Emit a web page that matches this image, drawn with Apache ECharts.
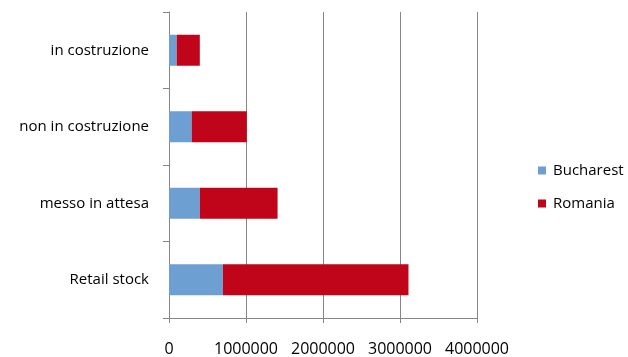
<!DOCTYPE html>
<html><head><meta charset="utf-8">
<script src="https://cdn.jsdelivr.net/npm/echarts@6/dist/echarts.min.js"></script>
<style>html,body{margin:0;padding:0;background:#fff}#c{width:628px;height:357px}</style>
</head><body><div id="c"></div>
<script>
const categories = ['Retail stock', 'messo in attesa', 'non in costruzione', 'in costruzione'];
const bucharest = [700000, 400000, 295000, 100000];
const romania = [2410000, 1010000, 715000, 300000];
const xTicks = [0, 1000000, 2000000, 3000000, 4000000];

const chart = echarts.init(document.getElementById('c'), null, {renderer: 'canvas'});
const font = '"Open Sans", sans-serif';
chart.setOption({
  animation: false,
  textStyle: {fontFamily: font},
  grid: {left: 169, right: 151, top: 12, bottom: 37, containLabel: false},
  legend: {
    orient: 'vertical', left: 533, top: 158, itemWidth: 8, itemHeight: 8, itemGap: 18,
    icon: 'rect',
    textStyle: {fontFamily: font, fontSize: 15, color: '#000', padding: [0, 0, 0, 2]},
    data: ['Bucharest', 'Romania']
  },
  xAxis: {
    type: 'value', min: xTicks[0], max: xTicks[xTicks.length - 1], interval: 1000000,
    axisLine: {show: true, lineStyle: {color: '#868686', width: 1}},
    axisTick: {show: true, length: 5, lineStyle: {color: '#868686'}},
    splitLine: {show: true, lineStyle: {color: '#868686', width: 1}},
    axisLabel: {fontFamily: font, fontSize: 16, color: '#000', margin: 23,
      formatter: v => String(v)}
  },
  yAxis: {
    type: 'category', data: categories,
    axisLine: {show: true, lineStyle: {color: '#868686', width: 1}},
    axisTick: {show: true, length: 6, lineStyle: {color: '#868686'}},
    axisLabel: {fontFamily: font, fontSize: 15, color: '#000', margin: 20,
      padding: [3, 0, 0, 0]}
  },
  series: [
    {name: 'Bucharest', type: 'bar', stack: 'a', data: bucharest, barWidth: 31,
     itemStyle: {color: '#6E9FD2'}},
    {name: 'Romania', type: 'bar', stack: 'a', data: romania, barWidth: 31,
     itemStyle: {color: '#C0041A'}}
  ]
});
</script></body></html>
